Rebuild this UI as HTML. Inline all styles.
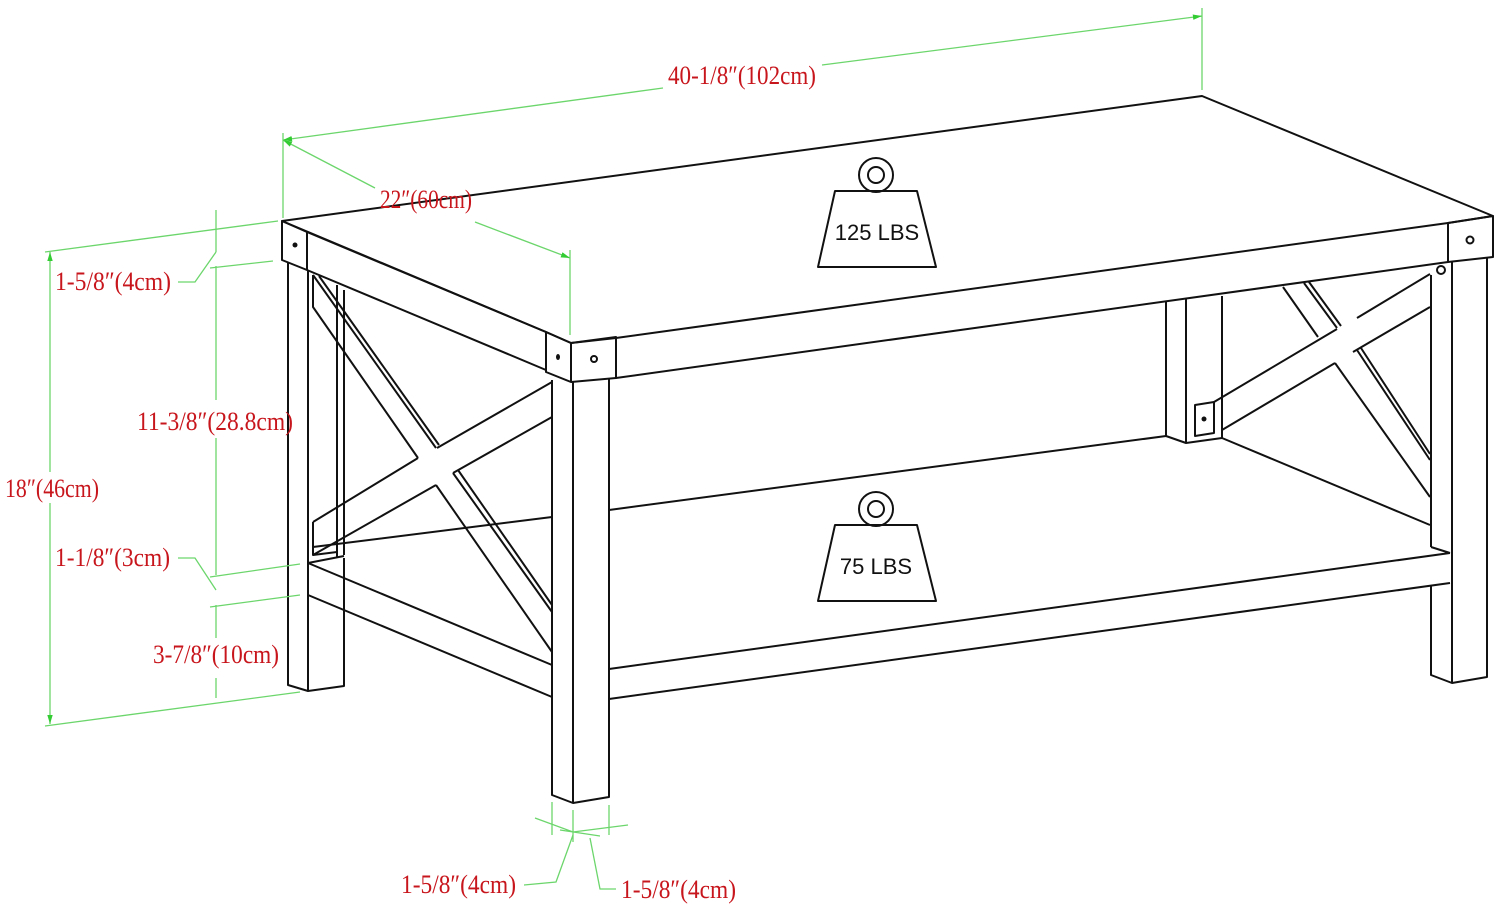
<!DOCTYPE html>
<html><head><meta charset="utf-8"><style>
html,body{margin:0;padding:0;background:#fff;}
svg{display:block;}
.k{stroke:#111;stroke-width:2;fill:none;stroke-linejoin:round;}
.g{stroke:#6cd66c;stroke-width:1.3;fill:none;}
.t{fill:#c8161d;font-family:"Liberation Serif","Noto Serif CJK SC",serif;font-size:26px;}
.w{fill:#111;font-family:"Liberation Sans",sans-serif;font-size:22px;}
</style></head><body>
<svg width="1500" height="906" viewBox="0 0 1500 906" xmlns="http://www.w3.org/2000/svg">
<defs><marker id="a" viewBox="0 0 10 10" refX="10" refY="5" markerWidth="7" markerHeight="7" orient="auto-start-reverse"><path d="M0,2 L10,5 L0,8 z" fill="#3c3"/></marker></defs>

<path class="k" d="M282,221 L1202,96 L1493,216 L1448,223 L616,338 L571,343 L546,332 Z"/>
<path class="k" d="M282,221 L307,232 L307,270 L282,260 Z"/>
<circle cx="295" cy="245" r="2.5" fill="#111"/>
<path class="k" d="M307,232 L546,332 M307,270 L546,370"/>
<path class="k" d="M546,332 L571,343 L571,382 L546,372 Z"/>
<path class="k" d="M571,343 L616,337 L616,378 L571,382"/>
<ellipse cx="558" cy="357" rx="2" ry="3" fill="#111"/>
<circle cx="594" cy="359" r="3" class="k" stroke-width="1.5"/>
<path class="k" d="M616,378 L1448,262"/>
<path class="k" d="M1448,223 L1493,216 L1493,257 L1448,262 Z"/>
<circle cx="1470" cy="240" r="3.5" class="k" stroke-width="1.5"/>
<circle cx="1441" cy="270" r="4" class="k" stroke-width="1.5"/>

<path class="k" d="M288,262 L288,685 L308,691 L344,686 L344,558"/>
<path class="k" d="M308,270 L308,691"/>
<path class="k" d="M337,285 L337,558 M344,290 L344,555"/>
<path class="k" d="M313,275 L313,307 L418,458 M313,275 L436,448 M319,276 L439,445"/>
<path class="k" d="M436,485 L552,652 M453,473 L552,612 M458,470 L552,605"/>
<path class="k" d="M313,522 L418,458 M437,448 L552,382 M313,522 L313,555 L436,485 M453,473 L552,417"/>
<path class="k" d="M313,555 L337,552 L337,540"/>
<path class="k" d="M308,563 L552,665 M308,595 L552,697 M313,547 L552,517 M344,556 L308,563"/>

<path class="k" d="M552,380 L552,795 L573,803 L609,797 L609,378"/>
<path class="k" d="M573,382 L573,803"/>

<path class="k" d="M609,669 L1450,553 M609,699 L1450,583 M1431,547 L1450,553"/>
<path class="k" d="M609,510 L1166,436"/>

<path class="k" d="M1166,301 L1166,436 L1186,443 L1222,438 L1222,296 M1186,299 L1186,443"/>
<path class="k" d="M1195,405 L1214,402 L1214,433 L1195,436 Z"/>
<circle cx="1204" cy="419" r="2.5" fill="#111"/>
<path class="k" d="M1222,438 L1430,525"/>
<path class="k" d="M1214,402 L1337,329 M1357,318 L1430,274 M1222,430 L1335,363 M1353,352 L1430,307"/>
<path class="k" d="M1283,287 L1318,337 M1335,363 L1430,497 M1304,283 L1337,328 M1309,282 L1341,326 M1357,350 L1430,460 M1361,348 L1430,454"/>
<path class="k" d="M1431,275 L1431,547 M1431,585 L1431,675 L1452,683 L1487,677 L1487,257 M1452,262 L1452,683"/>

<circle cx="876" cy="175" r="17" class="k"/><circle cx="876" cy="175" r="8" class="k"/>
<path class="k" d="M835,191 L917,191 L936,267 L818,267 Z" fill="#fff"/>
<text class="w" x="877" y="240" text-anchor="middle">125 LBS</text>
<circle cx="876" cy="509" r="17" class="k"/><circle cx="876" cy="509" r="8" class="k"/>
<path class="k" d="M835,525 L917,525 L936,601 L818,601 Z" fill="#fff"/>
<text class="w" x="876" y="574" text-anchor="middle">75 LBS</text>

<path class="g" d="M283,133 L283,218 M1202,8 L1202,90"/>
<path class="g" d="M663,88 L283,140" marker-end="url(#a)"/>
<path class="g" d="M822,65 L1202,16" marker-end="url(#a)"/>
<path class="g" d="M375,188 L283,140" marker-end="url(#a)"/>
<path class="g" d="M475,222 L570,258" marker-end="url(#a)"/>
<path class="g" d="M570,250 L570,335"/>
<path class="g" d="M45,252 L278,221 M45,726 L300,692"/>
<path class="g" d="M50,472 L50,252" marker-end="url(#a)"/>
<path class="g" d="M50,503 L50,724" marker-end="url(#a)"/>
<path class="g" d="M216,210 L216,252 M216,266 L216,400 M216,438 L216,575 M216,605 L216,638 M216,678 L216,698"/>
<path class="g" d="M210,268 L273,261 M210,577 L300,564 M210,607 L300,595"/>
<path class="g" d="M178,282 L195,282 L216,252 M178,558 L195,558 L216,590"/>
<path class="g" d="M552,802 L552,835 M573,810 L573,842 M609,805 L609,835"/>
<path class="g" d="M535,818 L573,832 L628,825 M560,830 L600,836"/>
<path class="g" d="M573,835 L556,882 L524,885 M590,838 L600,889 L616,889"/>

<text class="t" x="668" y="84" textLength="148" lengthAdjust="spacingAndGlyphs">40-1/8″(102cm)</text>
<text class="t" x="380" y="208" textLength="92" lengthAdjust="spacingAndGlyphs">22″(60cm)</text>
<text class="t" x="55" y="290" textLength="116" lengthAdjust="spacingAndGlyphs">1-5/8″(4cm)</text>
<text class="t" x="137" y="430" textLength="156" lengthAdjust="spacingAndGlyphs">11-3/8″(28.8cm)</text>
<text class="t" x="5" y="497" textLength="94" lengthAdjust="spacingAndGlyphs">18″(46cm)</text>
<text class="t" x="55" y="566" textLength="115" lengthAdjust="spacingAndGlyphs">1-1/8″(3cm)</text>
<text class="t" x="153" y="663" textLength="126" lengthAdjust="spacingAndGlyphs">3-7/8″(10cm)</text>
<text class="t" x="401" y="893" textLength="115" lengthAdjust="spacingAndGlyphs">1-5/8″(4cm)</text>
<text class="t" x="621" y="898" textLength="115" lengthAdjust="spacingAndGlyphs">1-5/8″(4cm)</text>
</svg>
</body></html>
